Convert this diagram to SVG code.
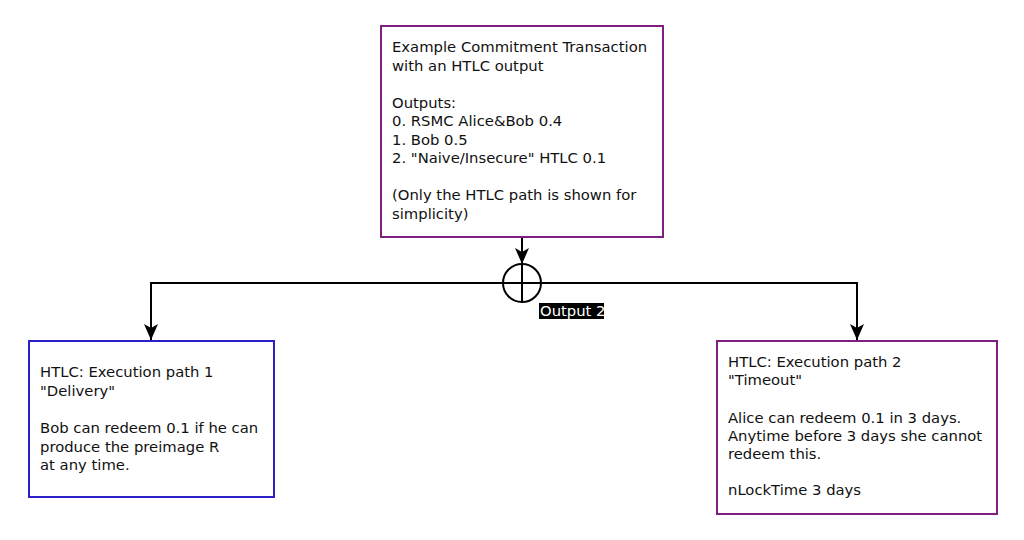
<svg xmlns="http://www.w3.org/2000/svg" width="1024" height="540" viewBox="0 0 1024 540">
<defs>
<style>
.box{fill:#ffffff;stroke-width:2}
.purple{stroke:#7f1f7f}
.blue{stroke:#2b1fc8}
.t{font-family:"DejaVu Sans",sans-serif;font-size:14.8px;fill:#111111}
.line{fill:none;stroke:#000000;stroke-width:2}
</style>
<marker id="arr" viewBox="0 0 16 14" refX="16" refY="7" markerWidth="16" markerHeight="14" markerUnits="userSpaceOnUse" orient="auto">
<path d="M0,0 L16,7 L0,14 L4,7 Z" fill="#000000"/>
</marker>
</defs>
<rect width="1024" height="540" fill="#ffffff"/>
<g id="connectors">
<line class="line" x1="522" y1="237" x2="522" y2="264" marker-end="url(#arr)"/>
<circle class="line" cx="522" cy="283" r="19"/>
<line class="line" x1="522" y1="264" x2="522" y2="302"/>
<path class="line" d="M522,283 H151 V340" marker-end="url(#arr)"/>
<path class="line" d="M522,283 H857 V340" marker-end="url(#arr)"/>
<rect x="539" y="303" width="65" height="16" fill="#000000"/>
<text class="t" x="540" y="316" style="fill:#ffffff">Output 2</text>
</g>
<g id="commitment">
<rect class="box purple" x="381" y="26" width="282" height="211"/>
<text class="t" x="392" y="52">Example Commitment Transaction</text>
<text class="t" x="392" y="71">with an HTLC output</text>
<text class="t" x="392" y="108">Outputs:</text>
<text class="t" x="392" y="126">0. RSMC Alice&amp;Bob 0.4</text>
<text class="t" x="392" y="145">1. Bob 0.5</text>
<text class="t" x="392" y="163">2. "Naive/Insecure" HTLC 0.1</text>
<text class="t" x="392" y="200">(Only the HTLC path is shown for</text>
<text class="t" x="392" y="219">simplicity)</text>
</g>
<g id="path1">
<rect class="box blue" x="29" y="341" width="245" height="156"/>
<text class="t" x="40" y="377">HTLC: Execution path 1</text>
<text class="t" x="40" y="396">"Delivery"</text>
<text class="t" x="40" y="433">Bob can redeem 0.1 if he can</text>
<text class="t" x="40" y="452">produce the preimage R</text>
<text class="t" x="40" y="470">at any time.</text>
</g>
<g id="path2">
<rect class="box purple" x="717" y="341" width="280" height="173"/>
<text class="t" x="728" y="367">HTLC: Execution path 2</text>
<text class="t" x="728" y="385">"Timeout"</text>
<text class="t" x="728" y="423">Alice can redeem 0.1 in 3 days.</text>
<text class="t" x="728" y="441">Anytime before 3 days she cannot</text>
<text class="t" x="728" y="459">redeem this.</text>
<text class="t" x="728" y="495">nLockTime 3 days</text>
</g>
</svg>
